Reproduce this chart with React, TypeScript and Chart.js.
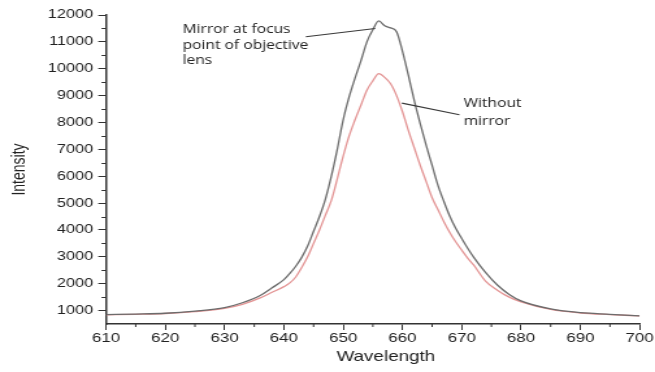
import { useEffect, useRef } from 'react';
import { Chart, registerables } from 'chart.js';

Chart.register(...registerables);

// ---------------- data ----------------
const wavelengths = [
  610, 615, 620, 625, 630, 633, 636, 638, 640, 641, 642, 643, 644, 645, 646, 647, 648, 649, 650,
  651, 652, 653, 654, 655, 656, 657, 658, 659, 660, 661, 662, 663, 664, 665, 666, 667, 668, 669,
  670, 671, 672, 674, 676, 678, 680, 685, 690, 695, 700,
];

const mirrorIntensity = [
  850, 870, 900, 980, 1110, 1290, 1560, 1846, 2150, 2380, 2650, 2980, 3400, 3950, 4500, 5150, 6000,
  7000, 8100, 8950, 9650, 10300, 11000, 11450, 11780, 11600, 11520, 11380, 10650, 9750, 8800, 7950,
  7150, 6400, 5650, 5050, 4500, 4050, 3680, 3320, 2990, 2420, 1950, 1600, 1360, 1060, 920, 860, 800,
];

const withoutMirrorIntensity = [
  840, 860, 890, 960, 1080, 1230, 1470, 1680, 1890, 2030, 2250, 2600, 3000, 3500, 4000, 4550, 5100,
  5900, 6750, 7500, 8100, 8650, 9200, 9550, 9820, 9680, 9440, 9000, 8400, 7700, 7050, 6400, 5800,
  5200, 4750, 4300, 3900, 3550, 3250, 2950, 2700, 2100, 1760, 1500, 1320, 1040, 910, 850, 800,
];

const xTickValues = [610, 620, 630, 640, 650, 660, 670, 680, 690, 700];
const xMinorTickValues = [615, 625, 635, 645, 655, 665, 675, 685, 695];
const yTickValues = [1000, 2000, 3000, 4000, 5000, 6000, 7000, 8000, 9000, 10000, 11000, 12000];
const yMinorTickValues = [1500, 2500, 3500, 4500, 5500, 6500, 7500, 8500, 9500, 10500, 11500];

const xTitle = 'Wavelength';
const yTitle = 'Intensity';
const mirrorLabelLines = ['Mirror at focus', 'point of objective', 'lens'];
const withoutLabelLines = ['Without', 'mirror'];

// annotation anchors, in data units (wavelength, intensity)
const annotations = [
  { lines: mirrorLabelLines, textAt: [622.9, 11329], gap: 15.6, from: [643.7, 11192], to: [655.4, 11500] },
  { lines: withoutLabelLines, textAt: [670.3, 8581], gap: 18, from: [669.6, 8290], to: [659.9, 8720] },
];
// x-axis title centre (wavelength units) – the title sits slightly right of the axis centre
const xTitleCentre = 657.2;

// ---------------- layout ----------------
const OUT_W = 655;
const OUT_H = 372;
const LOGICAL_W = 504;
const STRETCH = OUT_W / LOGICAL_W;

const TICK_COLOR = '#333333';
const TEXT_COLOR = '#222222';
const SANS = '"Liberation Sans", Arial, sans-serif';

const extrasPlugin = {
  id: 'extras',
  afterDraw(chart: any) {
    const { ctx, chartArea } = chart;
    const x = chart.scales.x;
    const y = chart.scales.y;
    ctx.save();
    ctx.strokeStyle = TICK_COLOR;
    ctx.lineWidth = 1;
    ctx.beginPath();
    xMinorTickValues.forEach((v) => {
      const px = x.getPixelForValue(v);
      ctx.moveTo(px, chartArea.bottom);
      ctx.lineTo(px, chartArea.bottom + 3);
    });
    yMinorTickValues.forEach((v) => {
      const py = Math.round(y.getPixelForValue(v)) + 0.5;
      ctx.moveTo(chartArea.left, py);
      ctx.lineTo(chartArea.left - 3.5, py);
    });
    ctx.stroke();

    // x-axis title
    ctx.fillStyle = TEXT_COLOR;
    ctx.font = `14.5px ${SANS}`;
    ctx.textAlign = 'center';
    ctx.textBaseline = 'alphabetic';
    ctx.fillText(xTitle, x.getPixelForValue(xTitleCentre), chartArea.bottom + 37);

    // annotations
    ctx.font = '12px "Open Sans"';
    ctx.textAlign = 'left';
    annotations.forEach((a) => {
      const tx = x.getPixelForValue(a.textAt[0]);
      const ty = y.getPixelForValue(a.textAt[1]);
      a.lines.forEach((line, i) => ctx.fillText(line, tx, ty + i * a.gap));
      ctx.beginPath();
      ctx.strokeStyle = '#3a3a3a';
      ctx.lineWidth = 1.1;
      ctx.moveTo(x.getPixelForValue(a.from[0]), y.getPixelForValue(a.from[1]));
      ctx.lineTo(x.getPixelForValue(a.to[0]), y.getPixelForValue(a.to[1]));
      ctx.stroke();
    });
    ctx.restore();
  },
};

export default function App() {
  const canvasRef = useRef<HTMLCanvasElement | null>(null);

  useEffect(() => {
    document.body.style.margin = '0';
    const canvas = canvasRef.current;
    if (!canvas) return;
    const chart = new Chart(canvas, {
      type: 'line',
      data: {
        datasets: [
          {
            label: 'Mirror at focus point of objective lens',
            data: wavelengths.map((w, i) => ({ x: w, y: mirrorIntensity[i] })),
            borderColor: '#6c6c6c',
            borderWidth: 1.3,
            pointRadius: 0,
            cubicInterpolationMode: 'monotone',
            fill: false,
          },
          {
            label: 'Without mirror',
            data: wavelengths.map((w, i) => ({ x: w, y: withoutMirrorIntensity[i] })),
            borderColor: '#e39494',
            borderWidth: 1.3,
            pointRadius: 0,
            cubicInterpolationMode: 'monotone',
            fill: false,
          },
        ],
      },
      options: {
        responsive: false,
        animation: false,
        devicePixelRatio: 1,
        layout: { padding: { top: 15, right: 10, bottom: 0, left: 0 } },
        plugins: {
          legend: { display: false },
          tooltip: { enabled: false },
        },
        scales: {
          x: {
            type: 'linear',
            min: 610,
            max: 700,
            afterBuildTicks: (scale: any) => {
              scale.ticks = xTickValues.map((v) => ({ value: v }));
            },
            afterFit: (scale: any) => {
              scale.height = 48;
            },
            grid: { display: true, drawOnChartArea: false, tickLength: 6, color: TICK_COLOR, lineWidth: 1 },
            border: { display: true, color: TICK_COLOR, width: 1.5 },
            ticks: {
              color: TEXT_COLOR,
              font: { family: SANS, size: 13 },
              padding: 1,
              maxRotation: 0,
              autoSkip: false,
              callback: (v: any) => String(v),
            },
            title: { display: false },
          },
          y: {
            type: 'linear',
            min: 500,
            max: 12000,
            afterBuildTicks: (scale: any) => {
              scale.ticks = yTickValues.map((v) => ({ value: v }));
            },
            afterFit: (scale: any) => {
              scale.width = 81.6;
            },
            grid: { display: true, drawOnChartArea: false, tickLength: 6, color: TICK_COLOR, lineWidth: 1 },
            border: { display: true, color: TICK_COLOR, width: 1.5 },
            ticks: {
              color: TEXT_COLOR,
              font: { family: SANS, size: 12.5 },
              padding: 4,
              autoSkip: false,
              callback: (v: any) => String(v),
            },
            title: {
              display: true,
              text: yTitle,
              color: TEXT_COLOR,
              font: { family: SANS, size: 14 },
              padding: { top: 7, bottom: 0 },
            },
          },
        },
      },
      plugins: [extrasPlugin],
    });
    return () => chart.destroy();
  }, []);

  return (
    <div style={{ width: OUT_W, height: OUT_H, overflow: 'hidden', position: 'relative', background: '#fff' }}>
      <canvas
        ref={canvasRef}
        width={LOGICAL_W}
        height={OUT_H}
        style={{ transform: `scaleX(${STRETCH})`, transformOrigin: '0 0', display: 'block' }}
      />
    </div>
  );
}
